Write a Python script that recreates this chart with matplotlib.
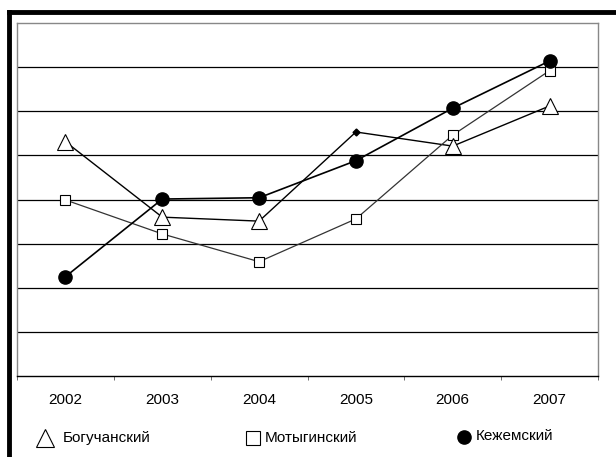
import matplotlib
matplotlib.use("Agg")
import matplotlib.pyplot as plt
from matplotlib.lines import Line2D

years = ["2002", "2003", "2004", "2005", "2006", "2007"]
boguchany = [5.31, 3.6, 3.51, 5.53, 5.21, 6.12]
motygino = [3.99, 3.22, 2.59, 3.56, 5.46, 6.92]
kezhma = [2.25, 4.01, 4.04, 4.88, 6.07, 7.14]
names = ["Богучанский", "Мотыгинский", "Кежемский"]

plt.rcParams["font.family"] = ["Liberation Sans", "DejaVu Sans"]

fig = plt.figure(figsize=(6.16, 4.57), dpi=100)
ax = fig.add_axes([17 / 616, 1 - 376 / 457, 581 / 616, 353 / 457])

x = list(range(len(years)))

# triangle series, 2005 point drawn as a small dot
ax.plot(x, boguchany, color="black", lw=1.0, zorder=3)
tri_x = [i for i in x if i != 3]
ax.plot(tri_x, [boguchany[i] for i in tri_x], ls="none", marker="^", ms=12,
        mfc="white", mec="black", mew=0.8, zorder=4)
ax.plot([3], [boguchany[3]], ls="none", marker="D", ms=3.5, color="black", zorder=4)

ax.plot(x, motygino, color="#333333", lw=0.9, marker="s", ms=7.5,
        mfc="white", mec="black", mew=0.8, zorder=3)
ax.plot(x, kezhma, color="black", lw=1.2, marker="o", ms=9.5,
        mfc="black", mec="black", zorder=5)

ax.set_xlim(-0.5, len(years) - 0.5)
ax.set_ylim(0, 8)
ax.set_yticks(range(1, 8))
ax.set_yticklabels([])
ax.tick_params(axis="y", length=0)
ax.grid(axis="y", color="black", lw=0.9)
ax.set_axisbelow(True)

ax.set_xticks(x)
ax.set_xticklabels(years, fontsize=11)
ax.tick_params(axis="x", which="major", length=0, pad=12)
ax.set_xticks([i - 0.5 for i in range(len(years) + 1)], minor=True)
ax.tick_params(axis="x", which="minor", length=3, color="#555555")

for s in ["top", "right", "left"]:
    ax.spines[s].set_color("#888888")
    ax.spines[s].set_linewidth(1.0)
ax.spines["bottom"].set_color("black")
ax.spines["bottom"].set_linewidth(1.0)

# thick outer frame (top and left)
fig.add_artist(Line2D([9 / 616, 1], [1 - 12 / 457, 1 - 12 / 457], color="black", lw=3.5))
fig.add_artist(Line2D([9 / 616, 9 / 616], [0, 1 - 12 / 457], color="black", lw=3.5))

# legend drawn by hand
ly = 1 - 438 / 457
fig.add_artist(Line2D([45 / 616], [ly], marker="^", ms=13, mfc="white",
                      mec="black", mew=0.8, ls="none"))
fig.text(63 / 616, ly, names[0], fontsize=11, va="center", ha="left")
fig.add_artist(Line2D([253 / 616], [ly], marker="s", ms=9.5, mfc="white",
                      mec="black", mew=0.8, ls="none"))
fig.text(265 / 616, ly, names[1], fontsize=11, va="center", ha="left")
fig.add_artist(Line2D([464 / 616], [ly + 1.5 / 457], marker="o", ms=9.5, color="black", ls="none"))
fig.text(476 / 616, ly + 1.5 / 457, names[2], fontsize=11, va="center", ha="left")

fig.savefig("out.png", dpi=100)
